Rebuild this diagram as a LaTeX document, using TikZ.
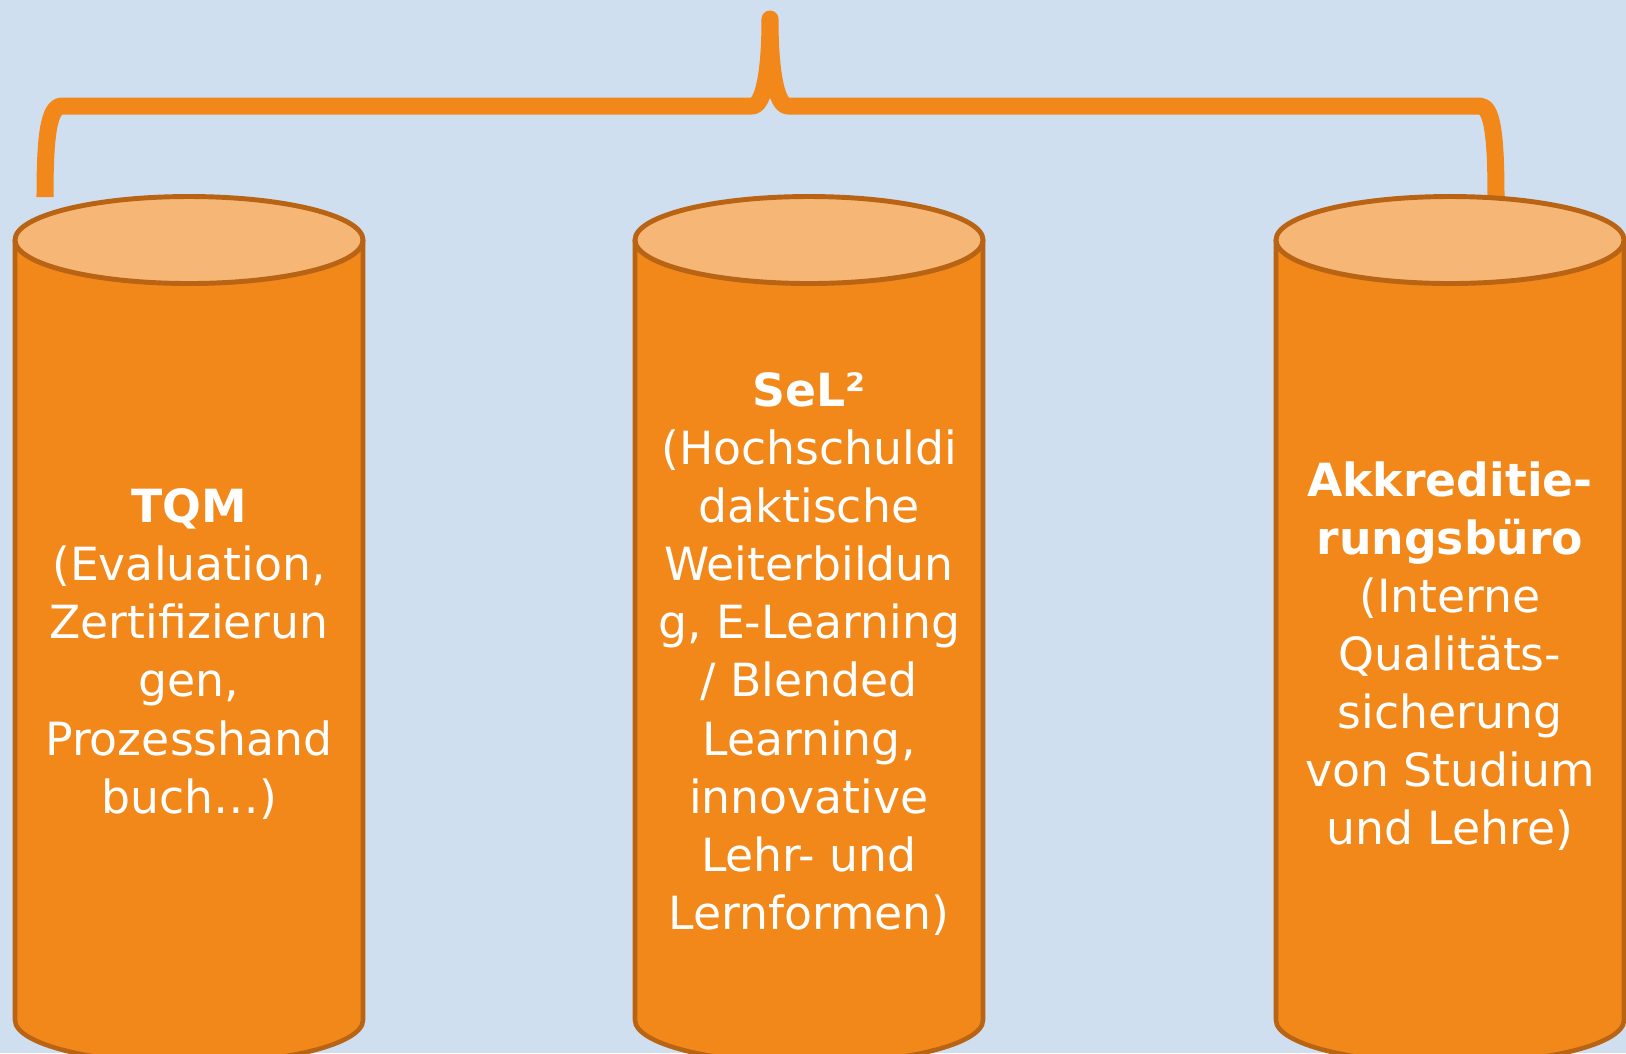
\documentclass[tikz,border=0pt]{standalone}
\usepackage{fontspec}
\setmainfont{DejaVu Sans}

\definecolor{bgblue}{RGB}{207,223,240}
\definecolor{pillarorange}{RGB}{242,136,26}
\definecolor{pillartop}{RGB}{246,183,118}
\definecolor{pillarrim}{RGB}{184,100,20}

\begin{document}
\begin{tikzpicture}[x=0.01cm,y=-0.01cm,
    pillarbody/.style={fill=pillarorange,draw=pillarrim,line width=1.3pt},
    pillarlid/.style={fill=pillartop,draw=pillarrim,line width=1.4pt},
    pillartext/.style={text=white,align=center,font=\fontsize{13}{16.5}\selectfont},
    brace/.style={draw=pillarorange,line width=0.17cm,line join=round}]
  \fill[bgblue] (0,0) rectangle (1626,1053);
  \useasboundingbox (0,0) rectangle (1626,1053);

  % the brace over the pillars
  \coordinate (brace-l) at (45,197);
  \coordinate (brace-tip) at (770,19);
  \coordinate (brace-r) at (1496,197);
  \draw[brace] (brace-l) .. controls (45,140) and (48,106) .. (62,106)
    -- (752,106) .. controls (764,106) and (770,70) .. (brace-tip)
    .. controls (770,70) and (776,106) .. (788,106)
    -- (1480,106) .. controls (1493,106) and (1496,140) .. (brace-r);

  % the three pillars
  \foreach \cx in {189,809,1450}{
    \path[pillarbody] (\cx-174,240) -- (\cx-174,1020)
      arc[start angle=180,end angle=0,x radius=174,y radius=43.5] -- (\cx+174,240);
    \path[pillarlid] (\cx,240) ellipse [x radius=174,y radius=43.5];
  }

  \node[pillartext] (tqm) at (189,654) {\textbf{TQM}\\(Evaluation,\\Zertifizierun\\gen,\\Prozesshand\\buch…)};
  \node[pillartext] (sel) at (809,654) {\textbf{SeL²}\\(Hochschuldi\\daktische\\Weiterbildun\\g, E-Learning\\/ Blended\\Learning,\\innovative\\Lehr- und\\Lernformen)};
  \node[pillartext] (akk) at (1450,656) {\textbf{Akkreditie-}\\\textbf{rungsbüro}\\(Interne\\Qualitäts-\\sicherung\\von Studium\\und Lehre)};
\end{tikzpicture}
\end{document}
